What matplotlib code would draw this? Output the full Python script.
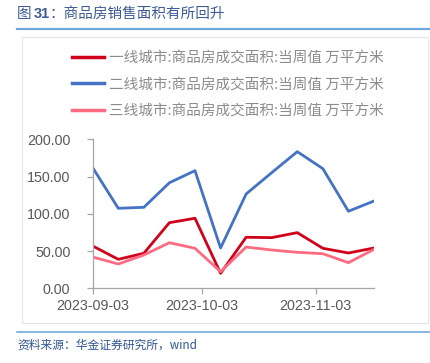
import matplotlib
matplotlib.use("Agg")
import matplotlib.pyplot as plt
import matplotlib.dates as mdates
from matplotlib.lines import Line2D
from matplotlib.patches import Rectangle
import numpy as np
import datetime as dt

plt.rcParams['font.family'] = ['Liberation Sans', 'Noto Sans CJK SC', 'DejaVu Sans']

dates = [dt.date(2023, 9, 3) + dt.timedelta(days=7 * i) for i in range(12)]
tier1 = [56.8, 38.9, 47.0, 88.1, 94.0, 20.1, 68.5, 68.0, 74.7, 53.7, 47.4, 54.1]
tier2 = [161.9, 107.4, 108.7, 141.7, 157.9, 54.1, 126.6, 155.2, 183.4, 160.6, 103.4, 117.2]
tier3 = [42.0, 32.6, 44.7, 61.2, 53.7, 22.3, 55.4, 51.4, 48.3, 46.4, 34.4, 52.3]
labels = ['一线城市:商品房成交面积:当周值 万平方米',
          '二线城市:商品房成交面积:当周值 万平方米',
          '三线城市:商品房成交面积:当周值 万平方米']
colors = ['#D0021B', '#4472C4', '#FF6B81']
xticks = [dt.date(2023, 9, 3), dt.date(2023, 10, 3), dt.date(2023, 11, 3)]
yticks = [0, 50, 100, 150, 200]

W, H = 431, 363
fig = plt.figure(figsize=(W / 100, H / 100), dpi=100)

def fx(px):
    return px / W

def fy(py):
    return 1 - py / H

# outer frame
fig.add_artist(Rectangle((fx(22), fy(323)), fx(428) - fx(22), fy(37) - fy(323),
                         transform=fig.transFigure, fill=False, edgecolor='#E6E6E6', lw=0.8))
# title lines
fig.add_artist(Line2D([fx(17), 1], [fy(29), fy(29)], transform=fig.transFigure, color='#6FA8DC', lw=1.6))
fig.add_artist(Line2D([fx(17), 1], [fy(331.5), fy(331.5)], transform=fig.transFigure, color='#6FA8DC', lw=1.2))

fig.text(fx(17), fy(14), '图 ', fontsize=10.5, color='#3D5C95', va='center', ha='left',
         family=['Noto Sans CJK SC'])
fig.text(fx(34), fy(14), '31', fontsize=10.5, color='#3D5C95', va='center', ha='left',
         fontweight='bold', family=['Liberation Sans'])
fig.text(fx(49), fy(14), '：商品房销售面积有所回升', fontsize=10.5, color='#3D5C95', va='center', ha='left',
         family=['Noto Sans CJK SC'])
fig.text(fx(17), fy(345), '资料来源：华金证券研究所，wind', fontsize=8.5, color='#2F5597',
         va='center', ha='left', style='italic', family=['Noto Sans CJK SC', 'DejaVu Sans'])

ax = fig.add_axes([fx(92.7), fy(288.3), fx(374) - fx(92.7), fy(139.3) - fy(288.3)])
ax.plot(dates, tier1, color=colors[0], lw=2.0, label=labels[0])
ax.plot(dates, tier2, color=colors[1], lw=2.0, label=labels[1])
ax.plot(dates, tier3, color=colors[2], lw=2.0, label=labels[2])

ax.set_xlim(dates[0], dates[-1])
ax.set_ylim(0, 200)
ax.set_yticks(yticks)
ax.set_yticklabels([f'{v:.2f}' for v in yticks])
ax.set_xticks(xticks)
ax.xaxis.set_major_formatter(mdates.DateFormatter('%Y-%m-%d'))
for s in ['top', 'right']:
    ax.spines[s].set_visible(False)
for s in ['left', 'bottom']:
    ax.spines[s].set_color('#A6A6A6')
    ax.spines[s].set_linewidth(0.9)
ax.tick_params(axis='both', colors='#A6A6A6', length=4, width=0.9, labelcolor='#595959', labelsize=10.3)
ax.tick_params(axis='y', pad=12)
ax.tick_params(axis='x', pad=4)
ax.patch.set_alpha(0)

handles = [Line2D([], [], color=c, lw=2.5) for c in colors]
leg = fig.legend(handles, labels, loc='upper left', bbox_to_anchor=(fx(72), fy(51)),
                 frameon=False, handlelength=2.2, handletextpad=0.35,
                 labelspacing=0.86, borderpad=0, borderaxespad=0,
                 prop={'family': ['Noto Sans CJK SC', 'DejaVu Sans'], 'size': 10.5})
for t in leg.get_texts():
    t.set_color('#8C8C8C')

fig.savefig('out.png', dpi=100)
